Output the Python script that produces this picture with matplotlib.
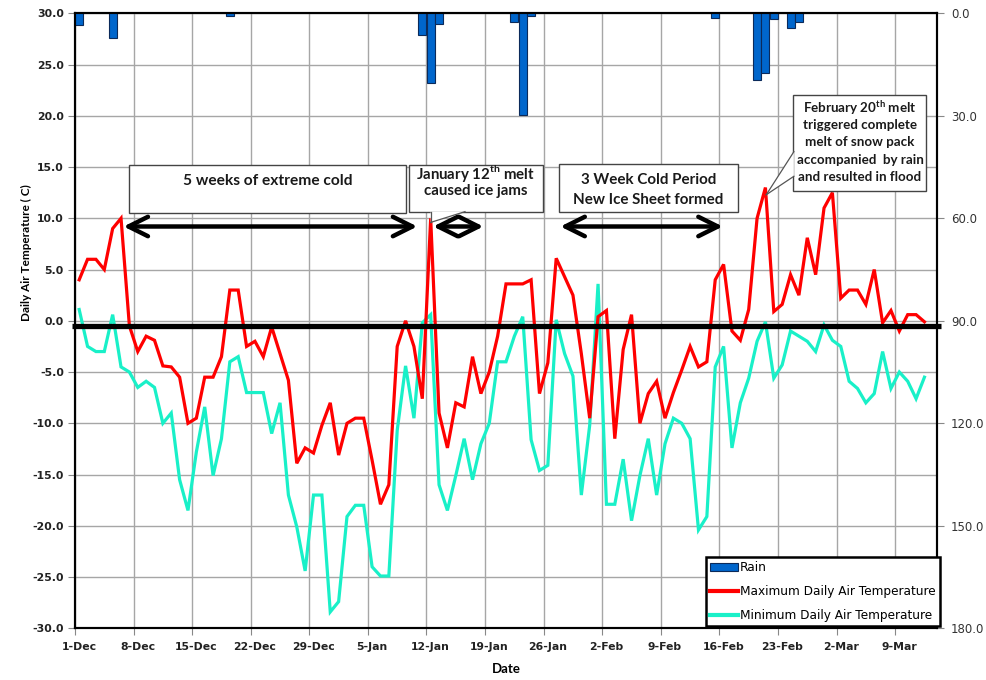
import numpy as np
import matplotlib
matplotlib.use('Agg')
import matplotlib.pyplot as plt
from matplotlib.patches import Rectangle, Polygon, FancyArrowPatch, Patch
from matplotlib.lines import Line2D

# ---------------- data ----------------
date_labels = ['1-Dec', '8-Dec', '15-Dec', '22-Dec', '29-Dec', '5-Jan', '12-Jan',
               '19-Jan', '26-Jan', '2-Feb', '9-Feb', '16-Feb', '23-Feb', '2-Mar', '9-Mar']

max_temp = [4.0, 6.0, 6.0, 5.0, 9.0, 10.0, -0.5, -3.0, -1.5, -1.9,
            -4.4, -4.5, -5.5, -10.0, -9.5, -5.5, -5.5, -3.5, 3.0, 3.0,
            -2.5, -2.0, -3.5, -0.6, -3.2, -5.8, -13.9, -12.4, -12.9, -10.2,
            -8.0, -13.1, -10.0, -9.5, -9.5, -13.6, -17.9, -16.0, -2.5, 0.0,
            -2.5, -7.6, 10.0, -9.0, -12.4, -8.0, -8.4, -3.5, -7.1, -5.0,
            -1.5, 3.6, 3.6, 3.6, 4.0, -7.1, -4.1, 6.1, 4.3, 2.5,
            -3.2, -9.5, 0.4, 1.0, -11.5, -2.8, 0.6, -10.0, -7.1, -5.9,
            -9.5, -7.0, -4.8, -2.5, -4.5, -4.0, 4.0, 5.5, -1.0, -1.9,
            1.1, 10.0, 13.0, 0.9, 1.6, 4.5, 2.5, 8.1, 4.5, 11.0,
            12.5, 2.2, 3.0, 3.0, 1.6, 5.0, -0.2, 1.0, -1.0, 0.6,
            0.6, -0.1]

min_temp = [1.1, -2.5, -3.0, -3.0, 0.6, -4.5, -5.0, -6.5, -5.9, -6.5,
            -10.0, -9.0, -15.5, -18.5, -12.8, -8.4, -15.1, -11.5, -4.0, -3.5,
            -7.0, -7.0, -7.0, -11.0, -8.0, -17.0, -20.1, -24.4, -17.0, -17.0,
            -28.4, -27.4, -19.1, -18.0, -18.0, -24.0, -24.9, -24.9, -10.7, -4.4,
            -9.5, -0.2, 0.6, -16.0, -18.5, -15.1, -11.5, -15.5, -12.0, -10.0,
            -4.0, -4.0, -1.5, 0.4, -11.6, -14.6, -14.1, 0.1, -3.2, -5.4,
            -17.0, -10.2, 3.6, -17.9, -17.9, -13.5, -19.5, -15.1, -11.5, -17.0,
            -12.0, -9.5, -10.0, -11.5, -20.4, -19.1, -4.5, -2.5, -12.4, -8.0,
            -5.6, -2.0, -0.1, -5.6, -4.3, -1.0, -1.5, -2.0, -3.0, -0.4,
            -1.9, -2.5, -5.9, -6.6, -8.0, -7.1, -3.0, -6.6, -5.0, -5.9,
            -7.6, -5.5]

rain_days = [0, 4, 18, 41, 42, 43, 52, 53, 54, 76, 81, 82, 83, 85, 86]
rain_mm = [3.4, 7.3, 0.8, 6.4, 20.3, 3.1, 2.5, 29.8, 0.8, 1.5, 19.6, 17.4, 1.8, 4.4, 2.5]

freeze_line = -0.55

RED = '#FF0000'
CYAN = '#19F0C8'
BLUE = '#0066CC'
ANN_FONT = 'Lato'

fig = plt.figure(figsize=(9.87, 6.8), dpi=100)
ax = fig.add_axes([75 / 987, (680 - 628.3) / 680, 862 / 987, 615 / 680])
ax2 = ax.twinx()

days = np.arange(len(max_temp)) + 0.5

# grid + lines
ax.set_xlim(0, 103)
ax.set_ylim(-30, 30)
ax.set_yticks(np.arange(-30, 31, 5))
ax.set_yticklabels(['%.1f' % v for v in np.arange(-30, 31, 5)],
                   fontweight='bold', fontsize=7.8, color='#222222')
ax.set_xticks(np.arange(0, 103, 7))
ax.set_xticklabels([])
ax.set_xticks(np.arange(0, 103, 7) + 0.5, minor=True)
ax.set_xticklabels(date_labels, minor=True, fontweight='bold', fontsize=7.8, color='#222222')
ax.tick_params(axis='x', which='minor', length=0, pad=10)
ax.tick_params(axis='x', which='major', length=5, color='#888888')
ax.tick_params(axis='y', length=5, color='#888888', pad=3)
ax.grid(True, which='major', color='#A6A6A6', lw=1.0, zorder=0)
ax.set_axisbelow(True)

ax.plot(days, max_temp, color=RED, lw=2.3, zorder=3, solid_joinstyle='miter')
ax.plot(days, min_temp, color=CYAN, lw=2.3, zorder=2, solid_joinstyle='miter')

for s in ax.spines.values():
    s.set_linewidth(1.5)
    s.set_color('black')

ax.set_ylabel('Daily Air Temperature ( C)', fontfamily=ANN_FONT, fontweight='bold', fontsize=8.5)
ax.yaxis.set_label_coords(-0.05, 0.611)
ax.set_xlabel('Date', fontfamily=ANN_FONT, fontweight='bold', fontsize=9.5)
ax.xaxis.set_label_coords(0.5, -0.057)

# rain on inverted right axis
ax2.set_ylim(180, 0)
ax2.set_yticks(np.arange(0, 181, 30))
ax2.set_yticklabels(['%.1f' % v for v in np.arange(0, 181, 30)], fontsize=8.5, color='#333333')
ax2.tick_params(axis='y', length=5, color='#888888', pad=5)
ax2.bar(np.array(rain_days) + 0.5, rain_mm, width=0.95, color=BLUE,
        edgecolor='#0B2A5A', lw=0.8, zorder=2)
for s in ax2.spines.values():
    s.set_linewidth(1.5)
    s.set_color('black')

T = ax.transData

# freezing line
ax2.plot([-0.3, 103.5], [freeze_line, freeze_line], color='black', lw=3.8,
         transform=T, clip_on=False, zorder=4, solid_capstyle='butt')

# arrows
arrow_y = 9.2
for x0, x1 in [(5.8, 40.9), (42.8, 48.8), (58.0, 77.4)]:
    a = FancyArrowPatch((x0, arrow_y), (x1, arrow_y), transform=T,
                        arrowstyle='<->,head_length=0.7,head_width=0.35',
                        mutation_scale=20, lw=3.2, color='black',
                        shrinkA=0, shrinkB=0, zorder=5)
    ax2.add_patch(a)

box_kw = dict(transform=T, facecolor='white', edgecolor='#444444', lw=1.0, zorder=6)

def box(x0, x1, y0, y1):
    r = Rectangle((x0, y0), x1 - x0, y1 - y0, **box_kw)
    ax2.add_patch(r)

def txt(x, y, s, size):
    ax2.text(x, y, s, transform=T, ha='center', va='center', fontfamily=ANN_FONT,
             fontweight='bold', fontsize=size, color='#1a1a1a', zorder=8)

def pointer(base1, base2, tip):
    poly = Polygon([base1, tip, base2], closed=True, transform=T, facecolor='white',
                   edgecolor='none', zorder=7)
    ax2.add_patch(poly)
    for b in (base1, base2):
        ax2.plot([b[0], tip[0]], [b[1], tip[1]], color='#555555', lw=0.9,
                 transform=T, zorder=7)

# box 1
box(6.5, 39.5, 10.5, 15.2)
txt(23.0, 13.65, '5 weeks of extreme cold', 11.2)

# box 2
box(39.9, 55.9, 10.6, 15.2)
pointer((42.5, 10.65), (46.6, 10.65), (42.5, 9.6))
txt(47.9, 14.4, 'January 12$^{\\mathregular{th}}$ melt', 10.8)
txt(47.9, 12.65, 'caused ice jams', 10.8)

# box 3
box(57.8, 79.2, 10.65, 15.3)
txt(68.5, 13.7, '3 Week Cold Period', 10.9)
txt(68.5, 11.8, 'New Ice Sheet formed', 10.9)

# box 4
box(85.85, 101.7, 12.7, 22.0)
pointer((85.9, 16.5), (85.9, 14.1), (82.6, 12.3))
for yy, s in zip([20.8, 19.1, 17.4, 15.7, 14.0],
                 ['February 20$^{\\mathregular{th}}$ melt', 'triggered complete',
                  'melt of snow pack', 'accompanied  by rain', 'and resulted in flood']):
    txt(93.8, yy, s, 9.6)

# legend
handles = [Patch(facecolor=BLUE, edgecolor='#0B2A5A', lw=0.8),
           Line2D([], [], color=RED, lw=3),
           Line2D([], [], color=CYAN, lw=3)]
labels = ['Rain', 'Maximum Daily Air Temperature', 'Minimum Daily Air Temperature']
leg = ax2.legend(handles, labels, loc='lower right', bbox_to_anchor=(1.003, 0.003),
                 fancybox=False, edgecolor='black', framealpha=1, fontsize=8.7,
                 borderaxespad=0, handlelength=2.3, handletextpad=0.15,
                 borderpad=0.35, labelspacing=0.9)
leg.get_frame().set_linewidth(1.8)
leg.set_zorder(10)

fig.savefig('out.png', dpi=100)
